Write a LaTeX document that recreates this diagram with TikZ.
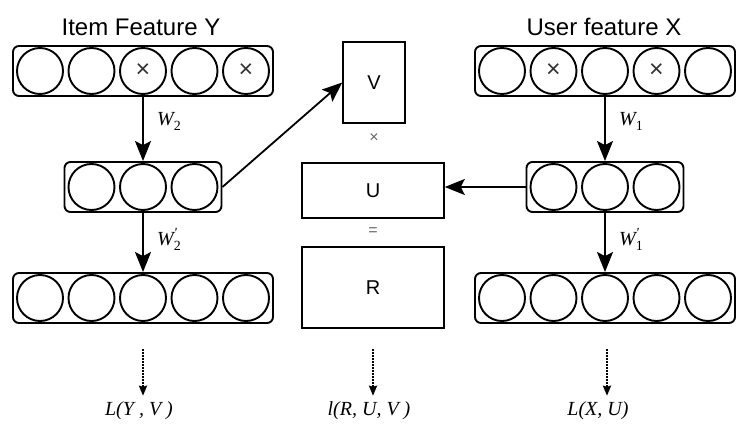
\documentclass[tikz,border=0pt]{standalone}
\usepackage{fontspec}
\setmainfont{Liberation Sans}
\newfontfamily\tms{Liberation Serif}
\usetikzlibrary{arrows.meta}
\newcommand{\wsub}[1]{{\itshape W}\raisebox{-5pt}{\fontsize{14}{16}\selectfont #1}}
\newcommand{\wsubp}[1]{{\itshape W}\rlap{\raisebox{8pt}{\fontsize{14}{16}\selectfont\itshape '}}\raisebox{-5pt}{\fontsize{14}{16}\selectfont #1}}
\begin{document}
\begin{tikzpicture}[x=1pt,y=-1pt,
  neuron/.style={circle,draw,line width=1.9pt,minimum size=46pt,inner sep=0pt},
  layer/.style={draw,rounded corners=6pt,line width=1.9pt,minimum height=50pt,inner sep=0pt},
  mat/.style={draw,line width=1.6pt,inner sep=0pt,font=\fontsize{20}{24}\selectfont},
  arr/.style={line width=1.8pt,-{Stealth[length=20pt,width=16pt,inset=4pt]}},
  dotarr/.style={line width=2pt,dash pattern=on 1.5pt off 1.5pt,-{Stealth[length=10pt,width=8pt,inset=1pt]},shorten >=5pt},
  title/.style={font=\fontsize{24}{28}\selectfont},
  wlab/.style={font=\tms\fontsize{20}{22}\selectfont,right,xshift=10pt},
  lossf/.style={font=\tms\fontsize{20}{22}\selectfont\itshape,inner sep=1pt},
  opsym/.style={font=\fontsize{16}{18}\selectfont,text=black!60},
  xmark/.style={font=\fontsize{25}{25}\selectfont,text=black!80}
]
\useasboundingbox (0,0) rectangle (748,439);

% titles
\node[title] (tY) at (141,27) {Item Feature Y};
\node[title] (tX) at (604,27) {User feature X};

% layers
\node[layer,minimum width=260pt] (TL) at (143,71) {};
\node[layer,minimum width=157pt] (ML) at (143,187) {};
\node[layer,minimum width=260pt] (BL) at (143,298) {};
\node[layer,minimum width=260pt] (TR) at (605,71) {};
\node[layer,minimum width=157pt] (MR) at (605,187) {};
\node[layer,minimum width=260pt] (BR) at (605,298) {};

\foreach \i in {1,...,5} {
  \node[neuron] (TLc\i) at ({143+51.5*(\i-3)},71) {};
  \node[neuron] (BLc\i) at ({143+51.5*(\i-3)},298) {};
  \node[neuron] (TRc\i) at ({605+51.5*(\i-3)},71) {};
  \node[neuron] (BRc\i) at ({605+51.5*(\i-3)},298) {};
}
\foreach \i in {1,2,3} {
  \node[neuron] (MLc\i) at ({143+51.5*(\i-2)},187) {};
  \node[neuron] (MRc\i) at ({605+51.5*(\i-2)},187) {};
}
\node[xmark] (xa) at (TLc3.center) {×};
\node[xmark] (xb) at (TLc5.center) {×};
\node[xmark] (xc) at (TRc2.center) {×};
\node[xmark] (xd) at (TRc4.center) {×};

% matrices
\node[mat,minimum width=62pt,minimum height=81pt] (V) at (374,82.5) {V};
\node[mat,minimum width=142pt,minimum height=55pt] (U) at (373,190.5) {U};
\node[mat,minimum width=142pt,minimum height=81pt] (R) at (373,287.5) {R};
\node[opsym] (times) at (374,138) {×};
\node[opsym] (eq) at (373,232) {=};

% arrows
\draw[arr] (TL.south) -- node[wlab,pos=0.38] {\wsub{2}} (ML.north);
\draw[arr] (ML.south) -- node[wlab,pos=0.45] {\wsubp{2}} (BL.north);
\draw[arr] (TR.south) -- node[wlab,pos=0.38] {\wsub{1}} (MR.north);
\draw[arr] (MR.south) -- node[wlab,pos=0.45] {\wsubp{1}} (BR.north);
\draw[arr] (ML.east) -- (V.west);
\draw[arr] (MR.west) -- (MR.west -| U.east);

% losses
\node[lossf] (LY) at (139,411) {L(Y , V )};
\node[lossf] (LR) at (369,411) {l(R, U, V )};
\node[lossf] (LX) at (598,411) {L(X, U)};
\coordinate (dY) at (143,349);
\coordinate (dR) at (373,349);
\coordinate (dX) at (607,349);
\draw[dotarr] (dY) -- (dY |- LY.north);
\draw[dotarr] (dR) -- (dR |- LR.north);
\draw[dotarr] (dX) -- (dX |- LX.north);
\end{tikzpicture}
\end{document}
